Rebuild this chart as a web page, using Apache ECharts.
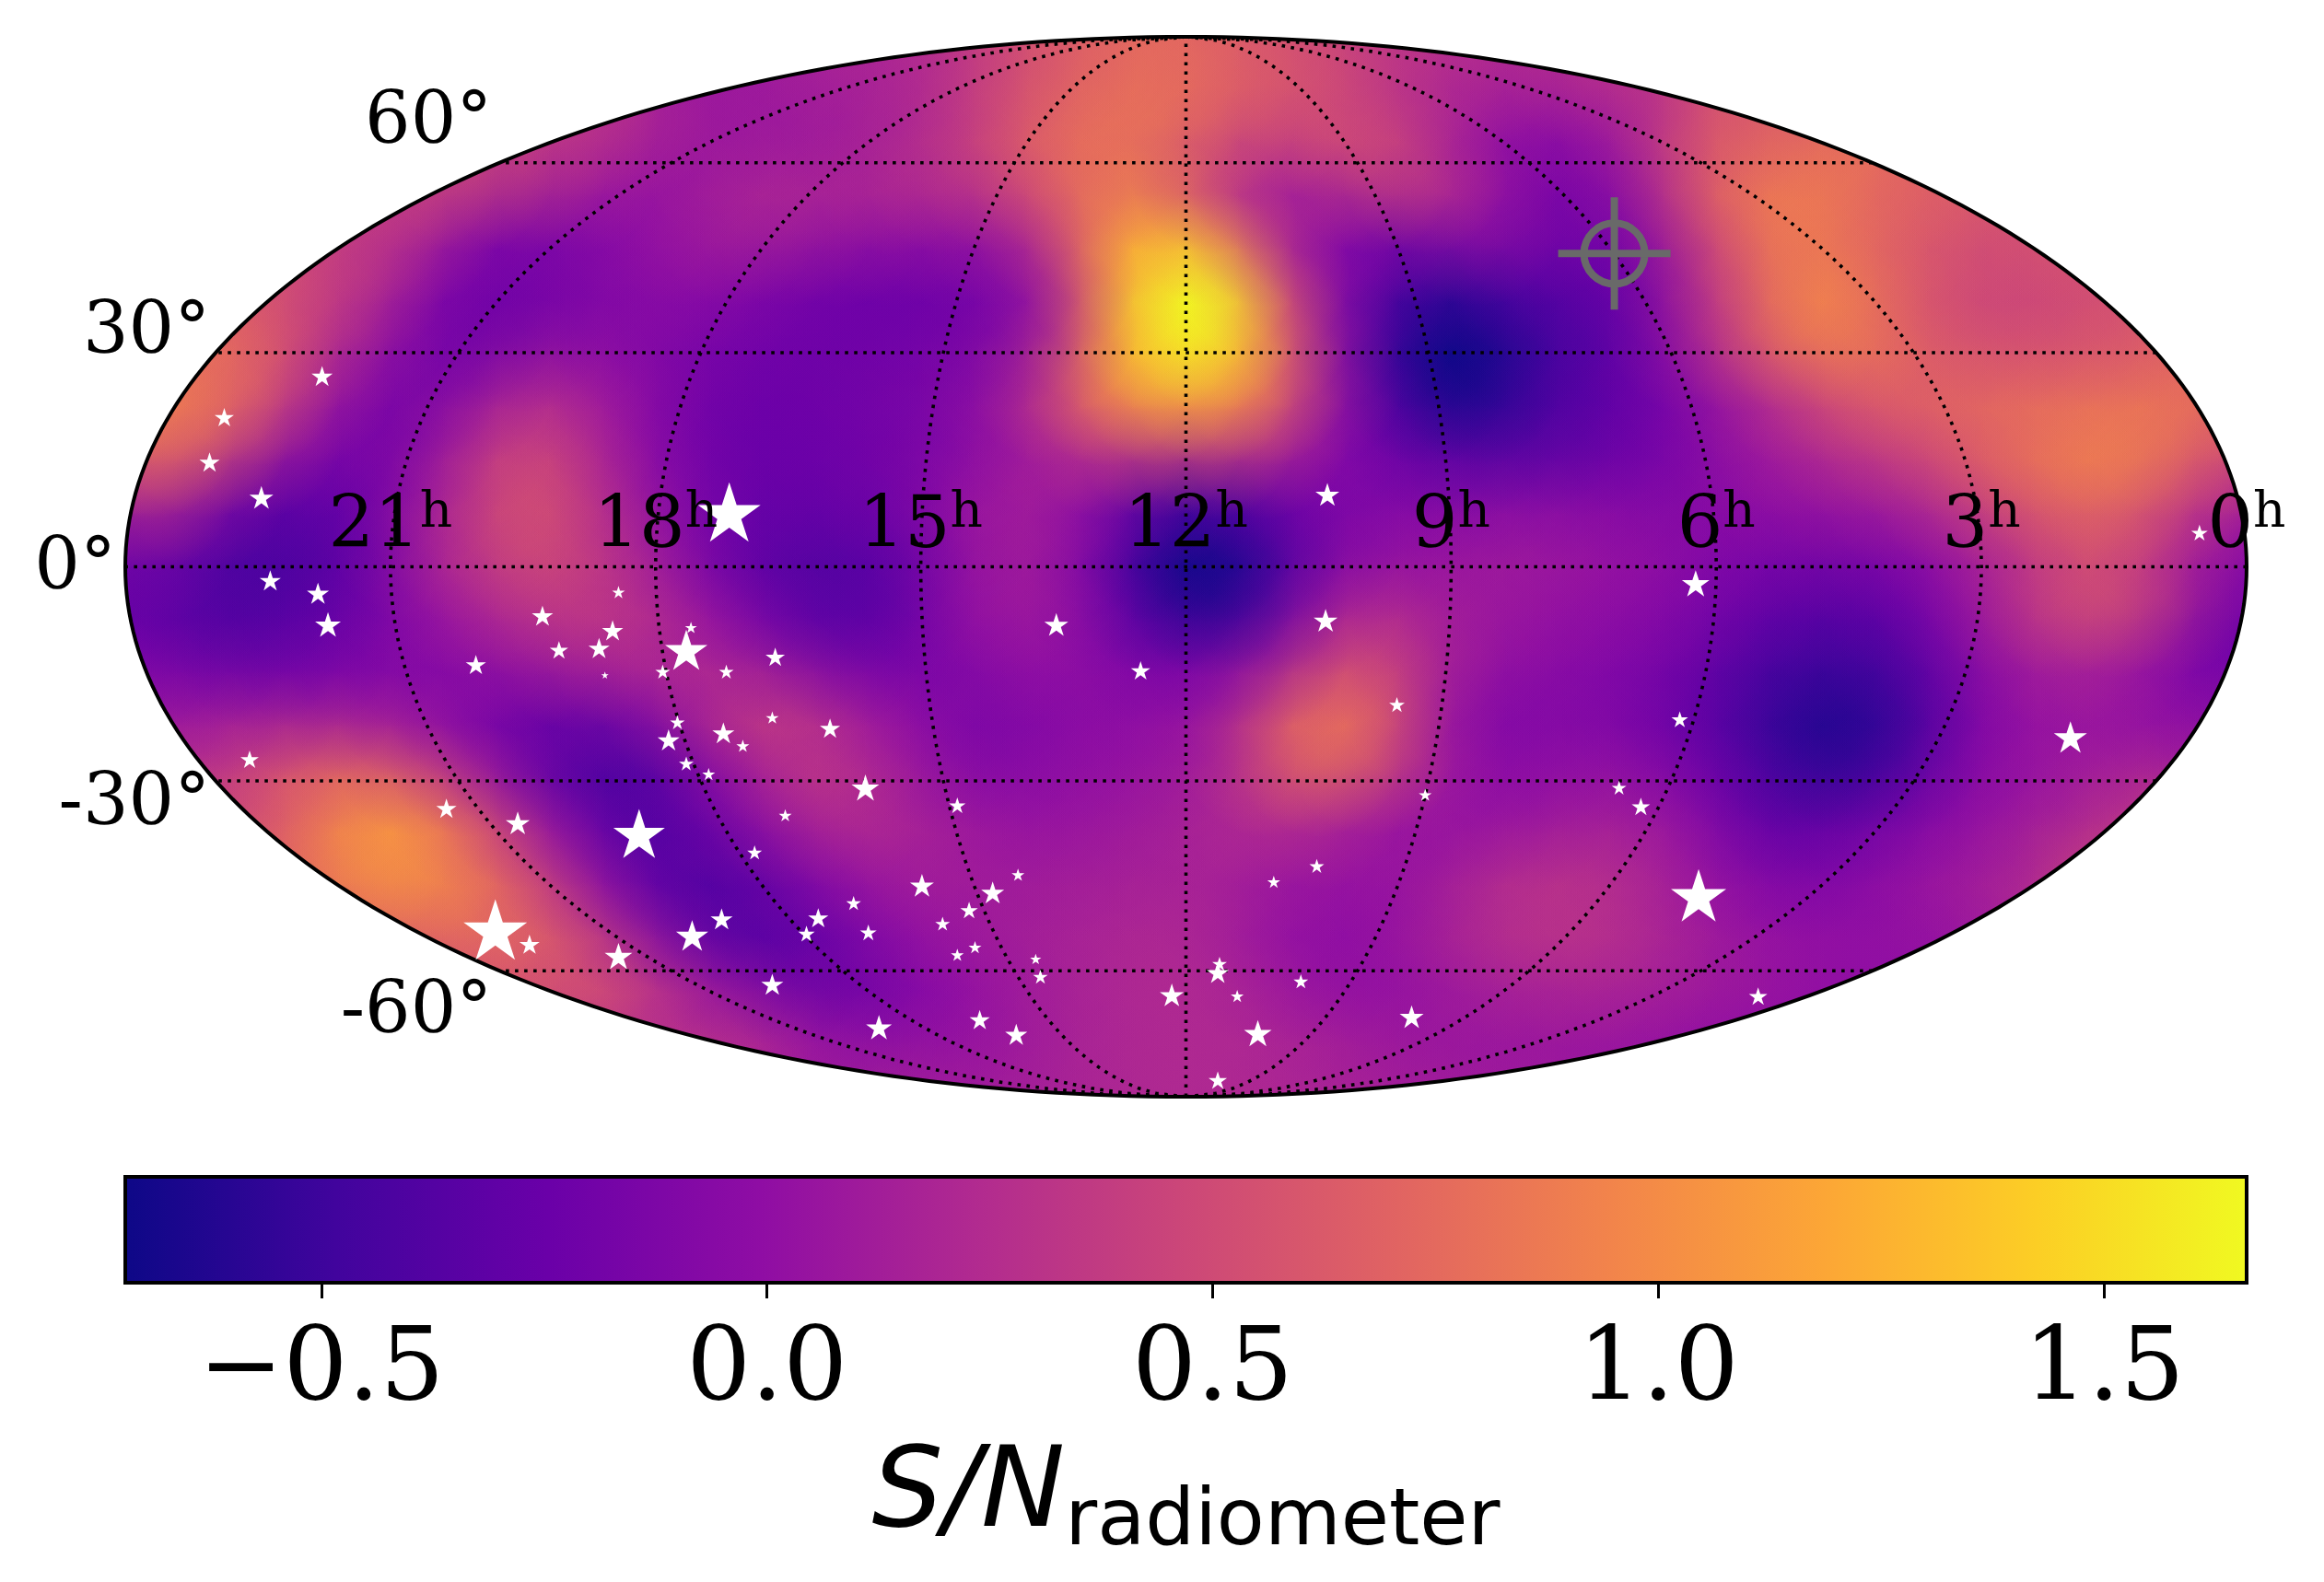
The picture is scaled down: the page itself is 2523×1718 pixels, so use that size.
<!DOCTYPE html>
<html>
<head>
<meta charset="utf-8">
<script src="https://cdn.jsdelivr.net/npm/echarts@6/dist/echarts.min.js"></script>
<style>
html, body { margin: 0; padding: 0; background: #fff; }
#chart { width: 2523px; height: 1718px; }
</style>
</head>
<body>
<div id="chart"></div>
<script>
// colour scale limits of S/N and the plasma map
var snMin = -0.72, snMax = 1.66;
var plasma = ['#0d0887', '#41049d', '#6a00a8', '#8f0da4', '#b12a90', '#cc4778', '#e16462', '#f2844b', '#fca636', '#fcce25', '#f0f921'];
var barTicks = [-0.5, 0, 0.5, 1, 1.5];

// S/N, on a 9 degree raster of the projected plane.
// rows run top to bottom, columns left to right, heatStart = first column of each row
var heatStart = [11, 8, 5, 4, 2, 1, 0, 0, 0, 0, 0, 0, 0, 0, 1, 2, 4, 5, 8, 11];
var heatRows = [
  [.1,.15,.2,.2,.3,.45,.6,.7,.75,.7,.6,.5,.35,.3,.25,.25,.3,.3],
  [.4,.25,.1,.05,.05,.08,.15,.3,.55,.75,.85,.85,.7,.55,.55,.45,.2,.05,0,.05,.25,.5,.6,.6],
  [.5,.5,.4,.2,.05,.05,.15,.2,.2,.3,.35,.5,.7,.75,.6,.3,.15,.3,.5,.45,.1,-.15,-.1,.15,.6,.8,.9,.8,.7,.7],
  [.4,.3,-.05,-.12,-.1,0,.1,.18,.15,.08,.05,.05,.15,.5,1.05,1.2,.85,.2,-.05,-.12,0,.05,-.1,-.2,-.05,.4,.8,.85,.75,.65,.55,.55,.6],
  [.55,.45,.35,0,-.2,-.2,-.12,-.06,0,-.06,-.15,-.2,-.22,-.2,-.12,.2,1,1.6,1.66,.75,.05,-.25,-.5,-.38,-.33,-.3,-.2,.2,.55,.95,.85,.65,.5,.45,.5,.55],
  [.7,.7,.4,.15,-.15,-.25,-.15,-.08,-.08,-.12,-.18,-.22,-.23,-.22,-.2,-.12,.15,1.1,1.66,1.66,.95,.1,-.38,-.72,-.72,-.5,-.4,-.18,.2,.65,.9,.9,.65,.52,.48,.5,.55,.6],
  [.85,.85,.7,.25,-.1,-.18,-.05,.2,.15,0,-.15,-.22,-.22,-.2,-.15,-.1,.1,.55,1.05,1.3,1.25,.9,.2,-.3,-.7,-.7,-.45,-.35,-.25,-.05,.2,.45,.68,.72,.72,.72,.72,.75,.8,.8],
  [.9,.75,.3,-.05,-.2,-.08,.25,.45,.3,0,-.18,-.25,-.25,-.22,-.2,-.12,.02,.25,.5,.6,.58,.4,0,-.22,-.38,-.45,-.4,-.33,-.22,-.1,.08,.22,.4,.5,.65,.75,.88,.92,.85,.6],
  [.4,.05,-.25,-.3,-.2,.05,.35,.58,.38,.1,-.1,-.22,-.25,-.22,-.15,.02,.12,.1,-.05,-.3,-.3,-.2,-.12,-.1,-.12,-.12,-.1,-.1,-.12,-.08,0,.05,.12,.22,.45,.65,.8,.82,.55,.3],
  [-.1,-.35,-.45,-.4,-.25,.15,.35,.55,.4,.2,-.1,-.3,-.35,-.35,-.3,-.05,.12,.05,-.25,-.65,-.72,-.5,-.2,-.05,.03,.08,.1,.05,.02,-.05,-.1,-.12,-.1,-.05,.1,.25,.45,.45,.25,0],
  [-.3,-.42,-.42,-.35,-.2,.02,.22,.35,.38,.3,.1,-.15,-.35,-.4,-.3,-.02,.1,.08,-.25,-.6,-.72,-.4,0,.2,.1,.1,.05,.02,-.03,-.1,-.22,-.3,-.32,-.22,.02,.3,.55,.6,.3,-.12],
  [-.2,-.3,-.3,-.25,-.15,-.08,.02,.15,.25,.28,.2,.05,-.12,-.25,-.22,-.1,.02,.03,-.08,-.22,-.22,-.05,.3,.5,.25,.08,0,-.05,-.1,-.2,-.35,-.42,-.45,-.35,-.12,.1,.22,.18,-.05,-.25],
  [0,.02,0,-.02,.02,-.05,-.15,-.2,-.15,-.05,.2,.4,.32,.12,0,-.12,-.12,-.05,-.03,-.02,.05,.45,.78,.7,.15,-.08,-.1,-.1,-.18,-.3,-.45,-.6,-.62,-.5,-.2,0,.05,.02,-.05,-.1],
  [.2,.3,.45,.6,.5,.3,.02,-.28,-.42,-.42,-.15,.12,.35,.28,.1,-.08,-.1,-.03,0,.05,.15,.6,.85,.65,.2,-.02,-.05,0,-.08,-.2,-.38,-.58,-.6,-.42,-.15,.02,.08,.1,.1,.1],
  [.4,.55,.8,1.05,.95,.55,.1,-.25,-.42,-.3,-.05,.18,.3,.2,.1,.03,.03,.08,.12,.2,.3,.28,.12,.02,0,.02,.1,.1,-.05,-.28,-.35,-.3,-.18,-.02,.05,.1,.3,.4],
  [.6,.8,1.1,1.05,.8,.45,.05,-.3,-.38,-.3,-.1,.05,.15,.12,.1,.1,.12,.15,.18,.1,.08,.02,.05,.18,.25,.28,.2,.08,-.1,-.18,-.1,.02,.08,.15,.4,.4],
  [.7,.85,.85,.75,.35,-.05,-.35,-.42,-.3,-.12,.03,.1,.12,.15,.18,.2,.15,.05,0,.02,.12,.25,.32,.3,.22,.1,.02,0,0,.02,.1,.2],
  [.5,.55,.55,.65,.45,.05,-.2,-.3,-.28,-.12,0,.1,.15,.2,.22,.2,.08,-.02,0,.08,.18,.22,.25,.22,.15,.1,.02,0,0,0],
  [.4,.3,.3,.25,.05,-.08,-.08,-.02,.05,.15,.2,.22,.22,.18,.12,.06,.04,.06,.08,.08,.05,.02,0,0],
  [.25,.15,.1,.15,.1,.12,.15,.2,.22,.22,.2,.18,.15,.12,.1,.08,.08,.05]
];

// stars: x, y in the projected plane (degrees), and marker weight
var starX = [146.6,163.2,165.7,156.9,77.5,-24,-172,155.4,147.3,145.6,96.3,109.2,97.3,99.6,106.4,120.5,84.8,84,98.6,88.8,78,69.7,86.3,87.8,78.5,70.2,75.2,60.4,84.8,81,54.4,158.9,125.5,113.4,92.8,68,38.8,73.2,28.5,44.8,32.8,56.4,36.8,41.3,62.4,78.8,83.8,117.2,111.4,64.4,53.9,35.8,38.8,25.5,96.3,24.7,70.2,52.1,35,28.8,2.4,22,7.7,-86.5,-23.7,-35.8,-83.8,-150.1,-40.6,-73.5,-77.2,-87,-22.2,-14.9,-5.7,-5.4,-19.5,-8.7,-12.2,-38.3,-97.1,-5.4];
var starY = [32.4,25.4,17.8,11.8,9.3,12.3,5.8,-2.3,-4.5,-9.8,-4.3,-8.3,-10.8,-13.8,-14.1,-16.6,-14.1,-10.3,-18.4,-17.8,-17.8,-15.3,-26.4,-29.4,-28.2,-25.6,-30.4,-27.4,-33.4,-35.2,-37.5,-32.7,-41,-43.5,-45.3,-42.2,-40.5,-48.5,-52.3,-54.1,-55.3,-57.1,-58.3,-60.6,-59.6,-59.8,-62.6,-61.6,-64.1,-62.3,-62.1,-64.6,-65.9,-66.6,-66.1,-69.6,-70.9,-78.2,-76.9,-79.4,-72.7,-9.8,-17.6,-2.8,-9.1,-23.4,-25.9,-28.9,-38.7,-37.5,-40.7,-55.8,-50.8,-53.5,-67.4,-68.9,-70.4,-72.9,-79.2,-76.4,-72.9,-87.2];
var starWeight = [2.3,2.1,2.2,2.6,6.8,2.6,1.8,2.3,2.4,2.8,1.4,2.3,2.3,2.3,2,2.2,4.6,1.3,.8,1.6,1.6,2.1,1.6,2.4,2.4,1.4,1.4,2.2,1.6,1.4,3,2,2.2,2.6,5.6,1.4,1.8,1.6,1.4,2.6,2.5,1.6,1.9,1.6,2.2,2.4,3.5,6.9,2.2,1.8,1.8,1.4,1.4,1.2,3,1.6,2.4,2.8,2.2,2.4,2.6,2.6,2.1,3,2.6,1.7,1.8,3.6,1.4,1.6,2,6,1.6,1.4,1.6,2.4,1.6,1.4,3,2.6,2,2];
var target = [-72.7, 53.2];

var raHours = [21, 18, 15, 12, 9, 6, 3, 0];
var decDegrees = [60, 30, 0, -30, -60];
var decOffsets = [[-8, -42], [-6, -20], [-10, 3], [-6, 27], [-8, 46]];

var cell = 9;
var heatData = [];
heatRows.forEach(function (row, r) {
    row.forEach(function (v, i) {
        var c = heatStart[r] + i;
        heatData.push([180 - cell * (c + 0.5), 90 - cell * (r + 0.5), v]);
    });
});

var starData = starX.map(function (x, i) { return [x, starY[i], starWeight[i]]; });

// mollweide: lon, lat in degrees to plane degrees
function project(lon, lat) {
    var phi = lat * Math.PI / 180;
    var t = phi;
    if (Math.abs(lat) > 89.99) {
        t = phi > 0 ? Math.PI / 2 : -Math.PI / 2;
    } else {
        for (var i = 0; i < 40; i++) {
            t -= (2 * t + Math.sin(2 * t) - Math.PI * Math.sin(phi)) / (2 + 2 * Math.cos(2 * t));
        }
    }
    return [lon * Math.cos(t), 90 * Math.sin(t)];
}

function rimPoints() {
    var pts = [];
    for (var a = 0; a <= 360; a += 1) {
        var rad = a * Math.PI / 180;
        pts.push([180 * Math.cos(rad), 90 * Math.sin(rad)]);
    }
    return pts;
}

function renderCell(params, api) {
    var a = api.coord([api.value(0) + cell / 2, api.value(1) + cell / 2]);
    var b = api.coord([api.value(0) - cell / 2, api.value(1) - cell / 2]);
    return {
        type: 'rect',
        shape: { x: a[0] - 0.5, y: a[1] - 0.5, width: b[0] - a[0] + 1, height: b[1] - a[1] + 1 },
        style: { fill: api.visual('color') }
    };
}

// soft disc over each raster cell so the raster does not look blocky
function renderSoft(params, api) {
    var c = api.coord([api.value(0), api.value(1)]);
    var w = api.size([cell, cell])[0];
    var col = api.visual('color');
    return {
        type: 'circle',
        shape: { cx: c[0], cy: c[1], r: w * 1.6 },
        style: {
            fill: new echarts.graphic.RadialGradient(0.5, 0.5, 0.5, [
                { offset: 0, color: col },
                { offset: 1, color: echarts.color.modifyAlpha(col, 0) }
            ])
        }
    };
}

// same disc at half strength, drawn back to front to even out the draw order
function renderSoftBack(params, api) {
    var c = api.coord([api.value(0), api.value(1)]);
    var w = api.size([cell, cell])[0];
    var col = api.visual('color');
    return {
        type: 'circle',
        shape: { cx: c[0], cy: c[1], r: w * 1.6 },
        style: {
            fill: new echarts.graphic.RadialGradient(0.5, 0.5, 0.5, [
                { offset: 0, color: echarts.color.modifyAlpha(col, 0.55) },
                { offset: 1, color: echarts.color.modifyAlpha(col, 0) }
            ])
        }
    };
}

// white sheet with an elliptic hole, trims the raster to the map outline
function renderMask(params, api) {
    var pts = [[200, 100], [-200, 100], [-200, -100], [200, -100], [200, 100], [180, 0]];
    rimPoints().reverse().forEach(function (p) { pts.push(p); });
    pts.push([200, 100]);
    return {
        type: 'polygon',
        shape: { points: pts.map(function (p) { return api.coord(p); }) },
        style: { fill: '#fff' }
    };
}

function renderRim(params, api) {
    return {
        type: 'polygon',
        shape: { points: rimPoints().map(function (p) { return api.coord(p); }) },
        style: { fill: 'none', stroke: '#000', lineWidth: 4 }
    };
}

function renderTarget(params, api) {
    var c = api.coord([api.value(0), api.value(1)]);
    var st = { stroke: '#696969', lineWidth: 8, fill: 'none' };
    return {
        type: 'group',
        children: [
            { type: 'circle', shape: { cx: c[0], cy: c[1], r: 33 }, style: st },
            { type: 'line', shape: { x1: c[0] - 61, y1: c[1], x2: c[0] + 61, y2: c[1] }, style: st },
            { type: 'line', shape: { x1: c[0], y1: c[1] - 61, x2: c[0], y2: c[1] + 61 }, style: st }
        ]
    };
}

function renderBar(params, api) {
    var a = api.coord([api.value(0), 1]);
    var b = api.coord([api.value(1), 0]);
    var stops = plasma.map(function (c, i) { return { offset: i / (plasma.length - 1), color: c }; });
    return {
        type: 'rect',
        shape: { x: a[0], y: a[1], width: b[0] - a[0], height: b[1] - a[1] },
        style: {
            fill: new echarts.graphic.LinearGradient(0, 0, 1, 0, stops),
            stroke: '#000',
            lineWidth: 4
        }
    };
}

var dotted = { color: '#000', width: 3.6, type: [3.6, 6.4] };
var series = [
    { type: 'custom', name: 'raster', coordinateSystem: 'cartesian2d', data: heatData, renderItem: renderCell, encode: { x: 0, y: 1 }, z: 1, silent: true },
    { type: 'custom', name: 'raster soft', coordinateSystem: 'cartesian2d', data: heatData, renderItem: renderSoft, encode: { x: 0, y: 1 }, z: 2, silent: true },
    { type: 'custom', name: 'raster soft back', coordinateSystem: 'cartesian2d', data: heatData.slice().reverse(), renderItem: renderSoftBack, encode: { x: 0, y: 1 }, z: 2, silent: true },
    { type: 'custom', name: 'mask', coordinateSystem: 'cartesian2d', data: [[0, 0]], renderItem: renderMask, z: 3, silent: true }
];

// graticule
decDegrees.forEach(function (lat) {
    series.push({
        type: 'line', symbol: 'none', z: 4, silent: true, lineStyle: dotted,
        data: [project(-180, lat), project(180, lat)]
    });
});
raHours.slice(0, 7).forEach(function (h) {
    var pts = [];
    for (var lat = -90; lat <= 90; lat += 2) {
        pts.push(project((h - 12) * 15, lat));
    }
    series.push({ type: 'line', symbol: 'none', z: 4, silent: true, lineStyle: dotted, data: pts });
});

series.push({ type: 'custom', name: 'rim', coordinateSystem: 'cartesian2d', data: [[0, 0]], renderItem: renderRim, z: 5, silent: true });
series.push({
    type: 'scatter', name: 'stars', z: 6, silent: true, data: starData,
    symbol: 'path://M0 -1L.2245 -.309L.951 -.309L.363 .118L.588 .809L0 .382L-.588 .809L-.363 .118L-.951 -.309L-.2245 -.309Z',
    symbolKeepAspect: true,
    symbolSize: function (v) { return v[2] * 10; },
    itemStyle: { color: '#fff', opacity: 1 }
});
series.push({ type: 'custom', name: 'target', coordinateSystem: 'cartesian2d', data: [target], renderItem: renderTarget, encode: { x: 0, y: 1 }, z: 7, silent: true });

// right ascension labels sit on the equator
series.push({
    type: 'scatter', name: 'ra labels', z: 8, silent: true, symbolSize: 0,
    itemStyle: { opacity: 1 },
    data: raHours.map(function (h) { return { value: [(h - 12) * 15, 0], name: String(h) }; }),
    label: {
        show: true, position: 'top', distance: 14, offset: [0, 16],
        formatter: function (p) { return '{d|' + p.name + '}{s|h}'; },
        rich: {
            d: { fontFamily: 'DejaVu Serif', fontSize: 78, color: '#000' },
            s: { fontFamily: 'DejaVu Serif', fontSize: 55, color: '#000', padding: [0, 0, 32, 0] }
        }
    }
});

// declination labels sit just outside the rim
series.push({
    type: 'scatter', name: 'dec labels', z: 8, silent: true, symbolSize: 0,
    itemStyle: { opacity: 1 },
    data: decDegrees.map(function (d, i) {
        return {
            value: project(180, d), name: d + '°',
            label: { offset: decOffsets[i] }
        };
    }),
    label: {
        show: true, position: 'left', distance: 0,
        formatter: function (p) { return p.name; },
        fontFamily: 'DejaVu Serif', fontSize: 78, color: '#000'
    }
});

// colour bar
series.push({
    type: 'custom', name: 'bar', coordinateSystem: 'cartesian2d', xAxisIndex: 1, yAxisIndex: 1,
    data: [[snMin, snMax]], renderItem: renderBar, z: 2, silent: true
});

var option = {
    animation: false,
    backgroundColor: '#fff',
    grid: [
        { left: 136, top: 40, width: 2303, height: 1151 },
        { left: 136, top: 1278, width: 2303, height: 115 }
    ],
    xAxis: [
        { type: 'value', gridIndex: 0, min: -180, max: 180, inverse: true, show: false },
        {
            type: 'value', gridIndex: 1, min: snMin, max: snMax,
            axisLine: { show: false },
            splitLine: { show: false },
            axisTick: { show: true, customValues: barTicks, length: 17, lineStyle: { color: '#000', width: 3 } },
            axisLabel: {
                customValues: barTicks, margin: 42,
                fontFamily: 'DejaVu Serif', fontSize: 110, color: '#000',
                formatter: function (v) { return v.toFixed(1).replace('-', '\u2212'); }
            },
            name: '{m|S/N}{r|radiometer}',
            nameLocation: 'middle', nameGap: 161,
            nameTextStyle: {
                rich: {
                    m: { fontFamily: 'DejaVu Sans', fontStyle: 'italic', fontSize: 122, color: '#000' },
                    r: { fontFamily: 'DejaVu Sans', fontSize: 85, color: '#000', padding: [58, 0, 0, 0] }
                }
            }
        }
    ],
    yAxis: [
        { type: 'value', gridIndex: 0, min: -90, max: 90, show: false },
        { type: 'value', gridIndex: 1, min: 0, max: 1, show: false }
    ],
    visualMap: {
        show: false, min: snMin, max: snMax, dimension: 2, seriesIndex: [0, 1, 2],
        inRange: { color: plasma }
    },
    series: series
};

var chart = echarts.init(document.getElementById('chart'));
chart.setOption(option);
</script>
</body>
</html>
